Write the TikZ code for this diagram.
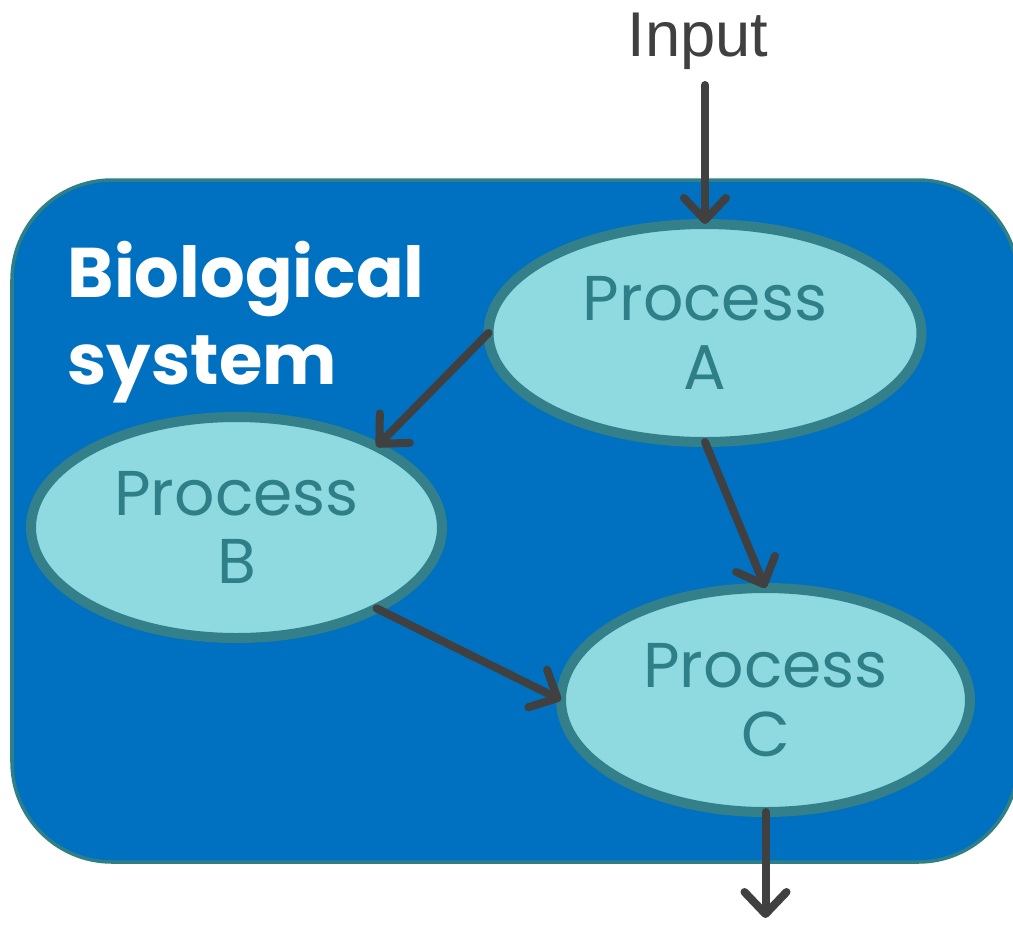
\documentclass[tikz,border=0pt]{standalone}
\usepackage{fontspec}
\setmainfont{Liberation Sans}
\newfontfamily\procfont{Poppins}
\usepackage{tikz}
\usetikzlibrary{arrows.meta,calc,positioning,shapes.geometric}
\definecolor{sysblue}{HTML}{0070C0}
\definecolor{sysedge}{HTML}{2F7F86}
\definecolor{procfill}{HTML}{8FDAE0}
\definecolor{procedge}{HTML}{33808A}
\definecolor{proctext}{HTML}{2E7F87}
\definecolor{arrowgray}{HTML}{404040}
\tikzstyle{system}=[
  draw=sysedge,
  fill=sysblue,
  line width=1pt,
  rounded corners=1cm,
]
\tikzstyle{process}=[
  ellipse,
  draw=procedge,
  fill=procfill,
  line width=0.1cm,
  inner sep=0pt,
  outer sep=0pt,
  align=center,
  text=proctext,
  font={\procfont\fontsize{18}{19.5}\selectfont},
]
\tikzstyle{syslabel}=[
  anchor=north west,
  align=left,
  inner sep=0pt,
  text=white,
  font={\procfont\bfseries\fontsize{20}{25}\selectfont},
]
\tikzstyle{arrow}=[
  draw=arrowgray,
  line width=0.08cm,
  line cap=round,
]
\tikzset{
  >={Straight Barb[length=0.22cm,width=0.42cm,line cap=round,line join=round]},
}
\begin{document}
\begin{tikzpicture}
  \useasboundingbox (0,0) rectangle (10.13,-9.26);
  \begin{scope}
    \clip (0,0) rectangle (10.13,-9.26);
    \path [system] (0.12,-1.8) rectangle (10.18,-8.62);
  \end{scope}
  \node (syslbl) [syslabel] at (0.67,-2.4) {Biological\\system};
  % processes
  \node (procA) [process, minimum width=4.33cm, minimum height=2.18cm] at (7.05,-3.33) {Process\\A};
  \node (procB) [process, minimum width=4.11cm, minimum height=2.21cm] at (2.365,-5.275) {Process\\B};
  \node (procC) [process, minimum width=4.09cm, minimum height=2.24cm] at (7.655,-7.0) {Process\\C};
  % input and output
  \coordinate (in) at (7.05,-0.85);
  \coordinate (out) at (7.655,-9.18);
  \node (inlbl) [above=0.03cm of in, xshift=-0.07cm, font=\fontsize{18}{20}\selectfont, text=arrowgray] {Input};
  \draw [->, arrow] (in) -- (procA.north);
  \draw [->, arrow] (procA.180) -- (procB.30);
  \draw [->, arrow] (procA.south) -- (procC.north);
  \draw [->, arrow] (procB.-30) -- (procC.west);
  \draw [->, arrow] (procC.south) -- (out);
\end{tikzpicture}
\end{document}
